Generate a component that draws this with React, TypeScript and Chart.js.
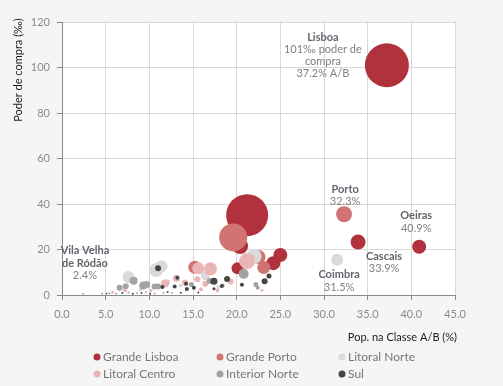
import React, { useEffect, useRef } from 'react';
import { Chart, registerables } from 'chart.js';
Chart.register(...registerables);

type Pt = [number, number, number];

const seriesNames = ['Grande Lisboa', 'Grande Porto', 'Litoral Norte', 'Litoral Centro', 'Interior Norte', 'Sul'];
const seriesColors = ['#b1323d', '#d17373', '#dadada', '#e9b5b5', '#a3a3a3', '#454545'];

const grandeLisboa: Pt[] = [
  [37.2, 101, 22], [21.2, 35.1, 21], [20.4, 21.5, 8], [20.1, 11.8, 6], [24.2, 14, 7], [25.0, 17.6, 7],
  [33.9, 23.3, 7.5], [40.9, 21.2, 7],
];
const grandePorto: Pt[] = [
  [32.3, 35.5, 8], [19.6, 25.3, 14], [22.5, 16.7, 7], [23.1, 12.1, 6.5], [15.2, 12.2, 6.5],
];
const litoralNorte: Pt[] = [
  [31.5, 15.5, 6], [22.0, 17.0, 7.5], [10.8, 11.0, 7], [11.4, 12.6, 6], [7.6, 7.9, 6], [16.4, 8.5, 4.5],
  [13.6, 4.2, 2], [9.0, 2.4, 2], [17.9, 3.5, 2],
];
const litoralCentro: Pt[] = [
  [21.2, 14.9, 8], [15.6, 11.8, 6], [17.0, 11.5, 6.5], [15.5, 6.9, 3], [16.4, 4.9, 3], [19.3, 5.9, 3],
  [22.9, 2.1, 1.5], [12.0, 5.5, 3], [14.1, 5.5, 3], [13.1, 7.4, 3.5], [11.8, 5.1, 4], [7.2, 2.1, 2],
  [17.8, 2.0, 2], [15.9, 2.5, 2], [10.2, 2.0, 1.5], [5.8, 1.2, 1.5],
];
const interiorNorte: Pt[] = [
  [20.8, 9.3, 5], [8.2, 6.3, 4], [6.6, 3.2, 3], [7.3, 3.8, 3], [9.3, 4.2, 4], [9.7, 4.6, 3.5], [10.6, 3.7, 3],
  [11.0, 3.7, 3], [14.8, 4.6, 2.5], [16.9, 6.2, 3], [18.4, 4.2, 2], [22.2, 4.6, 2.5], [22.4, 3.2, 2],
  [4.6, 0.6, 1], [5.4, 0.8, 1], [6.2, 0.6, 1], [7.6, 1.1, 1], [8.6, 0.8, 1], [9.6, 1.2, 1], [10.6, 0.7, 1],
  [11.6, 1.0, 1], [12.6, 0.9, 1], [2.4, 0.5, 1],
];
const sul: Pt[] = [
  [11.0, 11.8, 3], [13.2, 7.6, 2], [17.4, 6.0, 3.5], [18.9, 7.0, 3], [23.2, 6.0, 3], [23.7, 8.3, 2.5],
  [20.6, 4.5, 2], [11.5, 3.5, 2], [12.9, 3.7, 2], [14.3, 2.6, 2], [15.1, 3.2, 2], [14.2, 4.9, 2],
  [18.3, 4.0, 2], [17.4, 2.8, 1.5], [5.1, 0.6, 0.8], [6.9, 0.9, 1], [8.1, 0.5, 1], [9.1, 0.9, 1],
  [10.1, 0.5, 1], [12.1, 1.3, 1], [13.6, 1.0, 1], [15.6, 1.1, 1],
];
const seriesData: Pt[][] = [grandeLisboa, grandePorto, litoralNorte, litoralCentro, interiorNorte, sul];

// Annotations: anchored at a data point, title (bold) + lines
const labelTitles = ['Lisboa', 'Porto', 'Oeiras', 'Cascais', 'Coimbra', 'Vila Velha|de Ródão'];
const labelLines = [['101‰ poder de', 'compra', '37.2% A/B'], ['32.3%'], ['40.9%'], ['33.9%'], ['31.5%'], ['2.4%']];
const labelAnchorX = [37.2, 32.3, 40.9, 33.9, 31.5, 2.4];
const labelAnchorY = [101, 35.5, 21.2, 23.3, 15.5, 0.5];

const xTicks = [0, 5, 10, 15, 20, 25, 30, 35, 40, 45];
const yTicks = [0, 20, 40, 60, 80, 100, 120];
const xTitle = 'Pop. na Classe A/B (%)';
const yTitle = 'Poder de compra (‰)';

// pixel offsets for label text (layout only)
const labelOffsets: [number, number][] = [[-64, -28], [1, -25], [-3, -31], [26, 14], [2, 15], [2, -43]];

const FONT = 'Lato, "Open Sans", sans-serif';

export default function App() {
  const ref = useRef<HTMLCanvasElement | null>(null);
  useEffect(() => {
    const canvas = ref.current!;
    const bgPlugin = {
      id: 'bg',
      beforeDraw(chart: any) {
        const { ctx, chartArea: a } = chart;
        ctx.save();
        ctx.fillStyle = '#f5f5f5';
        ctx.fillRect(0, 0, chart.width, chart.height);
        ctx.fillStyle = '#ffffff';
        ctx.fillRect(a.left, a.top, a.right - a.left, a.bottom - a.top);
        ctx.restore();
      },
    };
    const decoPlugin = {
      id: 'deco',
      afterDraw(chart: any) {
        const { ctx } = chart;
        const xs = chart.scales.x;
        const ys = chart.scales.y;
        ctx.save();
        // annotations
        labelTitles.forEach((t, i) => {
          const px = xs.getPixelForValue(labelAnchorX[i]) + labelOffsets[i][0];
          let py = ys.getPixelForValue(labelAnchorY[i]) + labelOffsets[i][1];
          ctx.textAlign = 'center';
          ctx.textBaseline = 'middle';
          ctx.font = 'bold 11px ' + FONT;
          ctx.fillStyle = '#62666e';
          t.split('|').forEach((s) => {
            ctx.fillText(s, px, py);
            py += 12.5;
          });
          ctx.font = '11px ' + FONT;
          ctx.fillStyle = '#808080';
          labelLines[i].forEach((s) => {
            ctx.fillText(s, px, py);
            py += 12;
          });
        });
        // axis titles
        ctx.fillStyle = '#1a1a1a';
        ctx.font = '11px ' + FONT;
        ctx.textAlign = 'right';
        ctx.textBaseline = 'middle';
        ctx.fillText(xTitle, 457, 337);
        ctx.save();
        ctx.translate(18, 70);
        ctx.rotate(-Math.PI / 2);
        ctx.textAlign = 'center';
        ctx.fillText(yTitle, 0, 0);
        ctx.restore();
        // legend
        const colX = [97, 220, 342];
        const rowY = [357, 374];
        ctx.font = '12px ' + FONT;
        ctx.textAlign = 'left';
        seriesNames.forEach((n, i) => {
          const cx = colX[i % 3];
          const cy = rowY[Math.floor(i / 3)];
          ctx.fillStyle = seriesColors[i];
          ctx.beginPath();
          ctx.arc(cx, cy, 3.5, 0, Math.PI * 2);
          ctx.fill();
          ctx.fillStyle = '#767676';
          ctx.fillText(n, cx + 6, cy);
        });
        ctx.restore();
      },
    };
    const chart = new Chart(canvas, {
      type: 'bubble',
      data: {
        datasets: seriesNames.map((n, i) => ({
          label: n,
          data: seriesData[i].map(([x, y, r]) => ({ x, y, r })),
          backgroundColor: seriesColors[i],
          borderWidth: 0,
          order: seriesNames.length - i,
        })),
      },
      options: {
        animation: false,
        responsive: false,
        devicePixelRatio: 1,
        layout: { padding: { left: 0, right: 48, top: 8, bottom: 0 } },
        plugins: { legend: { display: false }, tooltip: { enabled: false } },
        scales: {
          x: {
            type: 'linear',
            min: 0,
            max: 45,
            afterBuildTicks: (s: any) => { s.ticks = xTicks.map((v) => ({ value: v })); },
            afterFit: (s: any) => { s.height = 91; },
            ticks: {
              callback: (v: any) => Number(v).toFixed(1),
              color: '#8a8a8a',
              font: { family: FONT, size: 11 },
              padding: 8,
              maxRotation: 0,
            },
            grid: { color: '#d9d9d9', tickColor: '#8a8a8a', tickLength: 5 },
            border: { color: '#8a8a8a' },
          },
          y: {
            type: 'linear',
            min: 0,
            max: 120,
            afterBuildTicks: (s: any) => { s.ticks = yTicks.map((v) => ({ value: v })); },
            afterFit: (s: any) => { s.width = 62; },
            ticks: {
              callback: (v: any) => String(v),
              color: '#8a8a8a',
              font: { family: FONT, size: 11 },
              padding: 7,
            },
            grid: { color: '#d9d9d9', tickColor: '#8a8a8a', tickLength: 5 },
            border: { color: '#8a8a8a' },
          },
        },
      },
      plugins: [bgPlugin, decoPlugin],
    } as any);
    return () => chart.destroy();
  }, []);
  return (
    <div style={{ position: 'fixed', left: 0, top: 0, width: 503, height: 386 }}>
      <canvas ref={ref} width={503} height={386} style={{ display: 'block', width: 503, height: 386 }} />
    </div>
  );
}
